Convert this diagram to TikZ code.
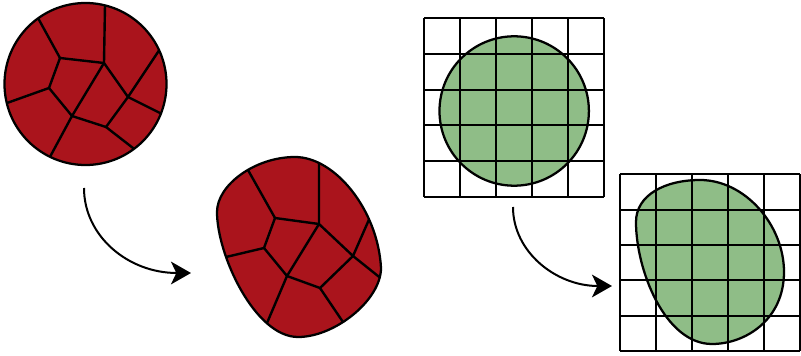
\documentclass[tikz,border=0pt]{standalone}
\usetikzlibrary{arrows.meta,calc}
\definecolor{cellred}{RGB}{170,20,28}
\definecolor{blobgreen}{RGB}{143,189,135}
\begin{document}
\begin{tikzpicture}[x=0.75pt,y=-0.75pt,
  edge/.style={line width=1.8pt,line join=round,line cap=round},
  outline/.style={line width=1.7pt},
  gridline/.style={line width=1.5pt},
  flow/.style={line width=1.5pt,-{Stealth[length=15pt,width=17pt,inset=4pt]}}]
\useasboundingbox (0,0) rectangle (801,356);

% ---------- round red cell ----------
\coordinate (c1) at (85.5,84);
\fill[cellred] (c1) circle[radius=81];
\begin{scope}
  \clip (c1) circle[radius=81];
  \coordinate (A) at (60,58);  \coordinate (B) at (104,63);
  \coordinate (C) at (49,88);  \coordinate (D) at (72,116);
  \coordinate (E) at (128,97); \coordinate (F) at (106,127);
  \coordinate (b1) at (38,18);  \coordinate (b2) at (105,5);
  \coordinate (b3) at (7,103);  \coordinate (b4) at (158,52);
  \coordinate (b5) at (160,113);\coordinate (b6) at (133,148);
  \coordinate (b7) at (51,155);
  \draw[edge] ($(A)!1.5!(b1)$) -- (A) -- (B) -- ($(B)!1.5!(b2)$);
  \draw[edge] (A) -- (C) -- ($(C)!1.5!(b3)$);
  \draw[edge] (C) -- (D) -- (B) -- (E) -- ($(E)!1.5!(b4)$);
  \draw[edge] (E) -- ($(E)!1.5!(b5)$);
  \draw[edge] (E) -- (F) -- (D) -- ($(D)!1.5!(b7)$);
  \draw[edge] (F) -- ($(F)!1.5!(b6)$);
\end{scope}
\draw[outline] (c1) circle[radius=81];

% ---------- deformed red cell ----------
\def\redblob{(217,212) .. controls (217,185) and (255,157) .. (295,157)
  .. controls (335,157) and (378,210) .. (381,268)
  .. controls (381,300) and (335,337) .. (298,337)
  .. controls (255,337) and (217,255) .. (217,212) -- cycle}
\fill[cellred] \redblob;
\begin{scope}
  \clip \redblob;
  \coordinate (A2) at (275,218); \coordinate (B2) at (319,224);
  \coordinate (C2) at (264,248); \coordinate (D2) at (287,276);
  \coordinate (E2) at (353,256); \coordinate (F2) at (320,288);
  \coordinate (d1) at (248,170); \coordinate (d2) at (319,165);
  \coordinate (d3) at (226,257); \coordinate (d4) at (371,215);
  \coordinate (d5) at (378,276); \coordinate (d6) at (345,325);
  \coordinate (d7) at (267,323);
  \draw[edge] ($(A2)!1.5!(d1)$) -- (A2) -- (B2) -- ($(B2)!1.5!(d2)$);
  \draw[edge] (A2) -- (C2) -- ($(C2)!1.5!(d3)$);
  \draw[edge] (C2) -- (D2) -- (B2) -- (E2) -- ($(E2)!1.5!(d4)$);
  \draw[edge] (E2) -- ($(E2)!1.5!(d5)$);
  \draw[edge] (E2) -- (F2) -- (D2) -- ($(D2)!1.5!(d7)$);
  \draw[edge] (F2) -- ($(F2)!1.5!(d6)$);
\end{scope}
\draw[outline] \redblob;

% ---------- green circle on grid ----------
\coordinate (g1) at (514.2,111);
\fill[blobgreen] (g1) circle[radius=74.7];
\foreach \i in {0,...,5} {
  \draw[gridline] ({424+35.9*\i},18.3) -- ({424+35.9*\i},196.8);
  \draw[gridline] (424,{18.3+35.7*\i}) -- (603.5,{18.3+35.7*\i});
}
\draw[outline] (g1) circle[radius=74.7];

% ---------- deformed green shape on grid ----------
\def\greenblob{(700,180) .. controls (745,180) and (784,225) .. (784,272)
  .. controls (784,320) and (745,344) .. (712,344)
  .. controls (665,344) and (636,270) .. (636,222)
  .. controls (636,195) and (665,180) .. (700,180) -- cycle}
\fill[blobgreen] \greenblob;
\foreach \i in {0,...,5} {
  \draw[gridline] ({620+35.95*\i},174.3) -- ({620+35.95*\i},351);
  \draw[gridline] (620,{174.3+35.34*\i}) -- (799.8,{174.3+35.34*\i});
}
\draw[outline] \greenblob;

% ---------- arrows ----------
\coordinate (s1) at (84,188);  \coordinate (t1) at (191,273);
\coordinate (s2) at (513,207); \coordinate (t2) at (612,286);
\draw[flow] (s1) .. controls (84,236) and (128,273) .. (t1);
\draw[flow] (s2) .. controls (513,252) and (556,286) .. (t2);
\end{tikzpicture}
\end{document}
